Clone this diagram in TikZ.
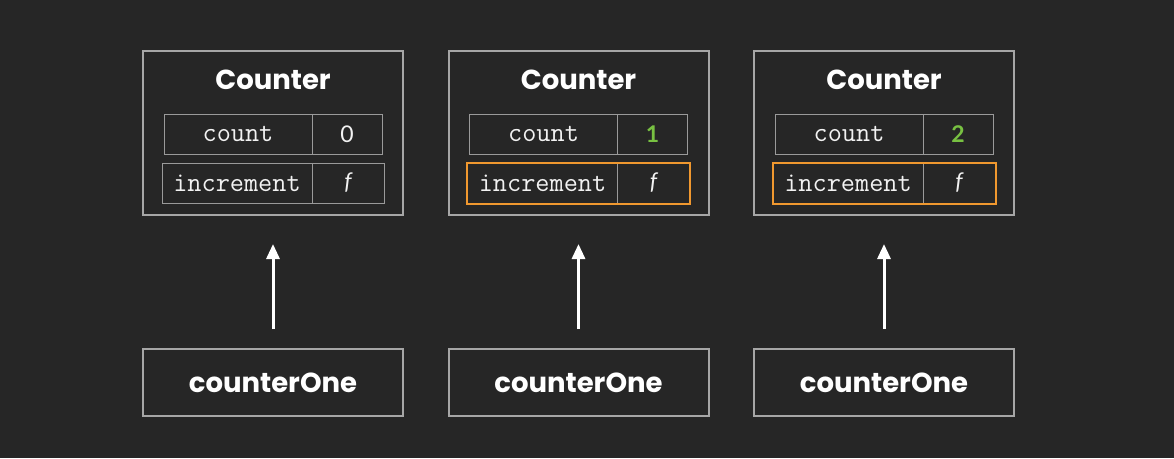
\documentclass[tikz,border=0pt]{standalone}
\usepackage{fontspec}
\setmainfont{Poppins}
\newfontfamily\latofam{Lato}
\usetikzlibrary{arrows.meta}
\definecolor{bg}{HTML}{262626}
\definecolor{bordergray}{HTML}{A6A6A6}
\definecolor{cellgray}{HTML}{9A9A9A}
\definecolor{hlorange}{HTML}{F0982F}
\definecolor{valgreen}{HTML}{78C142}
\definecolor{txt}{HTML}{F2F2F2}
\tikzset{
  outerbox/.style={draw=bordergray, line width=2pt, minimum width=260pt, minimum height=164pt, inner sep=0pt},
  refbox/.style={draw=bordergray, line width=2pt, minimum width=260pt, minimum height=67pt, inner sep=0pt, text=white, font=\fontsize{27.5}{27.5}\selectfont\bfseries},
  titletext/.style={text=white, inner sep=0pt, font=\fontsize{27.5}{27.5}\selectfont\bfseries},
  cell/.style={draw=cellgray, line width=1pt, minimum height=40pt, inner sep=0pt, text=txt, font=\ttfamily\fontsize{27.5}{27.5}\selectfont},
  valcell/.style={cell, font=\latofam\fontsize{23}{23}\selectfont},
  hlrow/.style={draw=hlorange, line width=2pt},
  ptr/.style={draw=white, line width=3pt, -{Triangle[length=15pt,width=13pt]}}
}
\begin{document}
\begin{tikzpicture}[x=1pt,y=-1pt]
\fill[bg] (0,0) rectangle (1174,458);
\useasboundingbox (0,0) rectangle (1174,458);
\foreach \i/\dx/\val/\hl in {1/0/0/0, 2/305.5/1/1, 3/611/2/1} {
  \begin{scope}[xshift=\dx pt]
    \node[outerbox] (box\i) at (273,133) {};
    \node[titletext] (title\i) at (273,80) {Counter};
    \node[cell, minimum width=148pt] (countk\i) at (238,134) {count};
    \ifnum\hl=0
      \node[valcell, minimum width=70pt] (countv\i) at (347,134) {\val};
    \else
      \node[valcell, minimum width=70pt, text=valgreen, font=\latofam\bfseries\fontsize{23}{23}\selectfont] (countv\i) at (347,134) {\val};
    \fi
    \node[cell, minimum width=150pt] (inck\i) at (237,183) {increment};
    \node[valcell, minimum width=72pt] (incv\i) at (348,183) {\itshape f};
    \ifnum\hl=1
      \draw[hlrow] (inck\i.north west) rectangle (incv\i.south east);
    \fi
    \node[refbox] (ref\i) at (273,382.5) {counterOne};
    \draw[ptr, shorten <=19pt, shorten >=28pt] (ref\i.north) -- (box\i.south);
  \end{scope}
}
\end{tikzpicture}
\end{document}
